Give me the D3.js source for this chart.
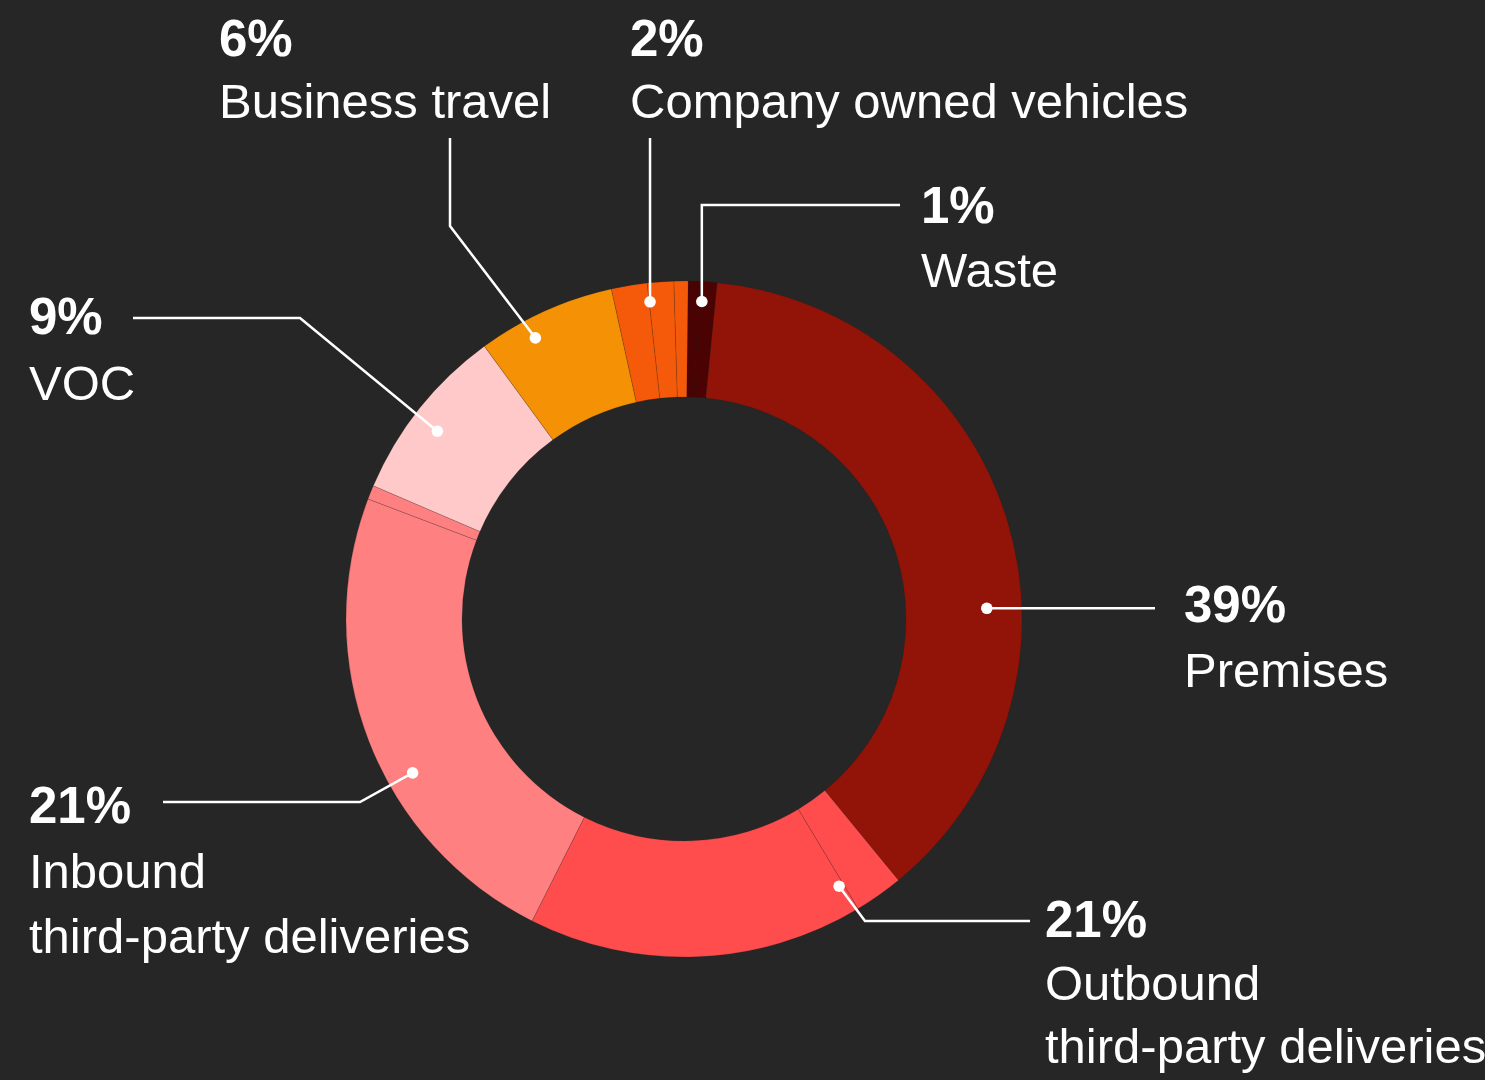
<!DOCTYPE html>
<html>
<head>
<meta charset="utf-8">
<script src="https://cdn.jsdelivr.net/npm/d3@7"></script>
<style>
  html, body { margin: 0; padding: 0; background: #262626; }
  svg { display: block; }
</style>
</head>
<body>
<div id="chart"></div>
<script>
"use strict";

// categories, clockwise from the top
const categories = ["Waste", "Premises", "Outbound third-party deliveries", "Inbound third-party deliveries", "VOC", "Business travel", "Company owned vehicles"];
const shareLabels = ["1%", "39%", "21%", "21%", "9%", "6%", "2%"];
const nameLines = [["Waste"], ["Premises"], ["Outbound", "third-party deliveries"], ["Inbound", "third-party deliveries"], ["VOC"], ["Business travel"], ["Company owned vehicles"]];

// the ring is drawn from thin sub-slices (percent of the circle), each one tied to a category
const segmentCategory = [0, 0, 1, 2, 2, 3, 3, 4, 5, 6, 6, 6];
const segmentValues = [0.53, 0.84, 37.5, 2.33, 16.03, 23.36, 0.67, 8.5, 6.61, 1.71, 1.26, 0.67];

const colors = ["#4b0202", "#921307", "#ff4d4d", "#ff8080", "#ffc9c9", "#f49104", "#f55a0a"];

const msm = {
    width: 1485,
    height: 1080,
    cx: 684,
    cy: 619,
    outer: 338,
    inner: 222,
    startDeg: 0.7
}

// where each callout sits: dot (fraction along the category arc + radius), bend points, text
const callouts = [
    { t: 0.51, r: 318, path: (p) => [p, [p[0], 205], [900, 205]], x: 921, y: 223, gap: 64 },
    { t: 0.61, r: 303, path: (p) => [p, [1155, p[1]]], x: 1184, y: 622, gap: 65 },
    { t: 0.14, r: 309, path: (p) => [p, [865, 921], [1030, 921]], x: 1045, y: 937, gap: 63 },
    { t: 0.39, r: 312, path: (p) => [p, [360, 802], [163, 802]], x: 29, y: 823, gap: 65 },
    { t: 0.46, r: 310, path: (p) => [p, [300, 318], [133, 318]], x: 29, y: 334, gap: 66 },
    { t: 0.35, r: 318, path: (p) => [p, [450, 226], [450, 138]], x: 219, y: 56, gap: 62 },
    { t: 0.48, r: 319, path: (p) => [p, [p[0], 138]], x: 630, y: 56, gap: 62 }
];

let svgContainer = "";

window.onload = function () {
    svgContainer = d3.select("#chart")
        .append("svg")
        .attr("width", msm.width)
        .attr("height", msm.height);

    svgContainer.append("rect")
        .attr("width", msm.width)
        .attr("height", msm.height)
        .attr("fill", "#262626");

    let arcs = drawRing();
    drawCallouts(arcs);
}

// donut from the segment values
function drawRing() {
    let segments = segmentValues.map((v, i) => ({ value: v, cat: segmentCategory[i] }));
    let start = msm.startDeg * Math.PI / 180;

    let pie = d3.pie()
        .sort(null)
        .value((d) => d.value)
        .startAngle(start)
        .endAngle(start + 2 * Math.PI);

    let arc = d3.arc()
        .innerRadius(msm.inner)
        .outerRadius(msm.outer);

    let arcs = pie(segments);

    svgContainer.append("g")
        .attr("transform", "translate(" + msm.cx + "," + msm.cy + ")")
        .selectAll("path")
        .data(arcs)
        .enter()
        .append("path")
        .attr("d", arc)
        .attr("fill", (d) => colors[d.data.cat])
        .attr("stroke", "rgba(30,30,30,0.35)")
        .attr("stroke-width", 0.5);

    return arcs;
}

// leader lines, dots and labels
function drawCallouts(arcs) {
    let g = svgContainer.append("g");
    let line = d3.line();

    categories.forEach((cat, i) => {
        let own = arcs.filter((a) => a.data.cat == i);
        let a0 = d3.min(own, (a) => a.startAngle);
        let a1 = d3.max(own, (a) => a.endAngle);
        let c = callouts[i];
        let p = d3.pointRadial(a0 + (a1 - a0) * c.t, c.r);
        p = [p[0] + msm.cx, p[1] + msm.cy];

        g.append("path")
            .attr("d", line(c.path(p)))
            .attr("fill", "none")
            .attr("stroke", "#ffffff")
            .attr("stroke-width", 2.5);

        g.append("circle")
            .attr("cx", p[0])
            .attr("cy", p[1])
            .attr("r", 5.8)
            .attr("fill", "#ffffff");

        g.append("text")
            .attr("x", c.x)
            .attr("y", c.y)
            .attr("fill", "#ffffff")
            .style("font-family", "'Liberation Sans', Arial, sans-serif")
            .style("font-weight", "bold")
            .style("font-size", "51px")
            .text(shareLabels[i]);

        nameLines[i].forEach((t, k) => {
            g.append("text")
                .attr("x", c.x)
                .attr("y", c.y + c.gap * (k + 1))
                .attr("fill", "#ffffff")
                .style("font-family", "'Liberation Sans', Arial, sans-serif")
                .style("font-size", "49px")
                .text(t);
        });
    });
}
</script>
</body>
</html>
